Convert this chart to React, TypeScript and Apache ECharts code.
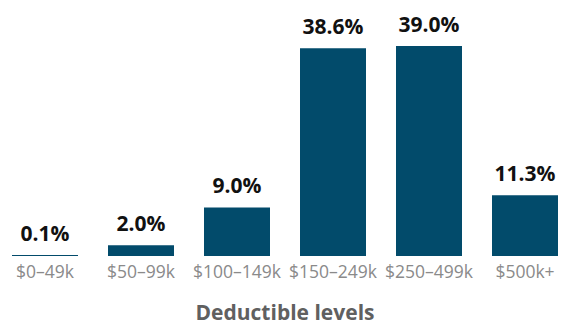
import React, { useEffect, useRef } from "react";
import * as echarts from "echarts";

const categories = ["$0–49k", "$50–99k", "$100–149k", "$150–249k", "$250–499k", "$500k+"];
const values = [0.1, 2.0, 9.0, 38.6, 39.0, 11.3];
const axisTitle = "Deductible levels";

export default function App() {
  const ref = useRef<HTMLDivElement>(null);
  useEffect(() => {
    const chart = echarts.init(ref.current!, null, { renderer: "svg" });
    chart.setOption({
      animation: false,
      grid: { left: -3, right: -4, top: 46, bottom: 70, containLabel: false, outerBoundsMode: "none" },
      xAxis: {
        type: "category",
        data: categories,
        name: axisTitle,
        nameLocation: "middle",
        nameGap: 45,
        nameTextStyle: { fontFamily: "Open Sans", fontSize: 21, fontWeight: "bold", color: "#606060" },
        axisLine: { show: false },
        axisTick: { show: false },
        axisLabel: { fontFamily: "Open Sans", fontSize: 17.5, color: "#8a8a8a", margin: 6, interval: 0 },
      },
      yAxis: { type: "value", min: 0, max: 39, show: false, splitLine: { show: false } },
      series: [
        {
          type: "bar",
          data: values,
          barWidth: 66,
          barMinHeight: 1,
          itemStyle: { color: "#024b6b" },
          label: {
            show: true,
            position: "top",
            distance: 12,
            formatter: (p: any) => p.value.toFixed(1) + "%",
            fontFamily: "Open Sans",
            fontSize: 21,
            fontWeight: "bold",
            color: "#111111",
          },
        },
      ],
    });
    return () => chart.dispose();
  }, []);
  return <div ref={ref} style={{ width: 569, height: 326, position: "absolute", left: 0, top: 0 }} />;
}
